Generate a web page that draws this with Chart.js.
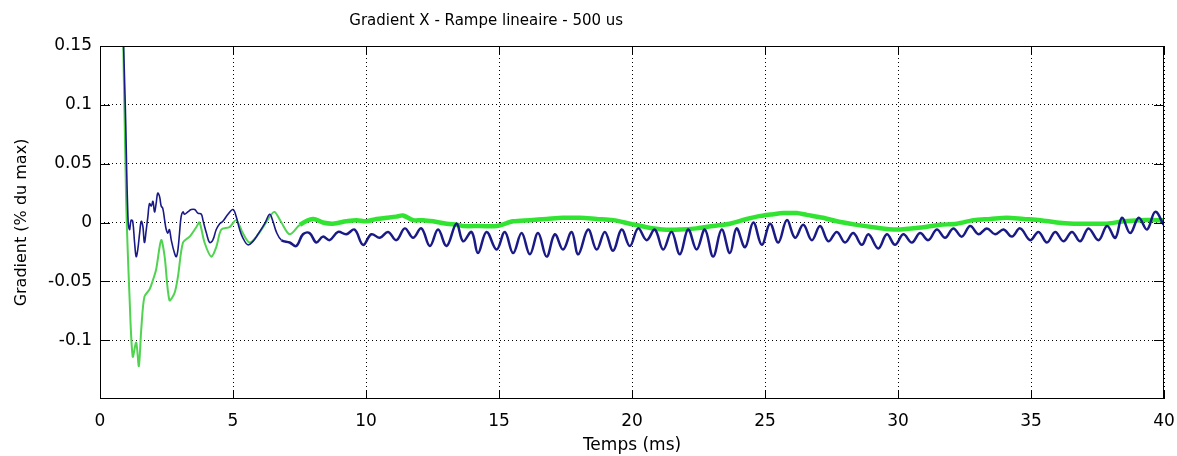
<!DOCTYPE html>
<html>
<head>
<meta charset="utf-8">
<script src="https://cdn.jsdelivr.net/npm/chart.js@4.4.0/dist/chart.umd.min.js"></script>
<style>
  html, body { margin: 0; padding: 0; background: #fff; }
  #wrap { width: 1177px; height: 456px; }
</style>
</head>
<body>
<div id="wrap"><canvas id="chart-gradient"></canvas></div>
<script>
const titre = 'Gradient X - Rampe lineaire - 500 us';
const xTicks = [0, 5, 10, 15, 20, 25, 30, 35, 40];
const yTicks = [-0.1, -0.05, 0, 0.05, 0.1, 0.15];
const yLabels = ['-0.1', '-0.05', '0', '0.05', '0.1', '0.15'];

// courbe bleue (temps en ms, gradient)
const bleuT = [0.86, 0.95, 1.05, 1.11, 1.17, 1.23, 1.30, 1.36, 1.42, 1.49, 1.55, 1.61, 1.67, 1.74, 1.80, 1.86, 1.93, 1.99,
  2.05, 2.11, 2.17, 2.24, 2.30, 2.36, 2.43, 2.49, 2.55, 2.61, 2.68, 2.80, 2.87, 2.93, 2.99, 3.05, 3.12, 3.18, 3.30, 3.43,
  3.56, 3.68, 3.81, 3.87, 4.00, 4.12, 4.24, 4.37, 4.50, 4.62, 4.81, 5.00, 5.12, 5.25, 5.37, 5.56, 5.75, 5.94, 6.19, 6.38,
  6.50, 6.63, 6.82, 7.13, 7.38, 7.63, 7.88, 8.13, 8.38, 8.63, 8.95, 9.26, 9.57, 9.89, 10.20, 10.52, 10.83, 11.14, 11.46,
  11.77, 12.08, 12.40, 12.71, 13.03, 13.40, 13.65, 13.97, 14.21, 14.53, 14.91, 15.22, 15.53, 15.85, 16.16, 16.47, 16.79,
  17.10, 17.41, 17.73, 17.98, 18.35, 18.67, 18.98, 19.29, 19.61, 19.92, 20.23, 20.55, 20.86, 21.17, 21.49, 21.80, 22.11,
  22.43, 22.74, 23.05, 23.37, 23.68, 23.93, 24.25, 24.56, 24.88, 25.19, 25.50, 25.82, 26.13, 26.44, 26.76, 27.07, 27.38,
  27.70, 28.01, 28.32, 28.64, 28.89, 29.26, 29.58, 29.89, 30.20, 30.52, 30.83, 31.14, 31.46, 31.77, 32.08, 32.40, 32.71,
  33.03, 33.34, 33.65, 33.97, 34.28, 34.59, 34.97, 35.28, 35.60, 35.91, 36.22, 36.54, 36.85, 37.16, 37.54, 37.86, 38.17,
  38.42, 38.73, 39.05, 39.36, 39.67, 39.99];
const bleuV = [0.17, 0.10, 0.005, -0.006, 0.002, 0.001, -0.017, -0.029, -0.023, -0.009, 0.001, -0.003, -0.017, -0.006, 0.005, 0.016, 0.014, 0.018,
  0.009, 0.016, 0.025, 0.022, 0.014, 0.012, 0.002, -0.006, -0.009, -0.006, -0.015, -0.026, -0.029, -0.023, -0.009, 0.005, 0.009, 0.007, 0.009, 0.011,
  0.011, 0.008, 0.007, 0.002, -0.009, -0.017, -0.015, -0.006, -0.001, 0.001, 0.007, 0.011, 0.005, -0.006, -0.013, -0.019, -0.016, -0.010, -0.001, 0.007,
  0.001, -0.008, -0.015, -0.017, -0.020, -0.010, -0.009, -0.017, -0.012, -0.015, -0.008, -0.010, -0.006, -0.019, -0.010, -0.013, -0.008, -0.015, -0.005,
  -0.013, -0.005, -0.020, -0.006, -0.020, -0.001, -0.016, -0.008, -0.026, -0.008, -0.023, -0.008, -0.026, -0.009, -0.027, -0.009, -0.029,
  -0.010, -0.023, -0.008, -0.027, -0.006, -0.023, -0.008, -0.024, -0.006, -0.020, -0.005, -0.015, -0.006, -0.023, -0.008, -0.027, -0.006,
  -0.023, -0.006, -0.029, -0.006, -0.026, -0.005, -0.021, 0.000, -0.019, -0.001, -0.017, 0.002, -0.013, -0.002, -0.015, -0.003, -0.016,
  -0.008, -0.017, -0.009, -0.019, -0.010, -0.022, -0.010, -0.019, -0.010, -0.017, -0.009, -0.015, -0.006, -0.013, -0.005, -0.012, -0.003,
  -0.010, -0.005, -0.010, -0.006, -0.012, -0.005, -0.015, -0.008, -0.017, -0.008, -0.016, -0.008, -0.016, -0.005, -0.015, -0.003, -0.013,
  0.004, -0.009, 0.004, -0.006, 0.009, -0.002];

// courbe verte
const vertT = [0.84, 0.98, 1.11, 1.23, 1.36, 1.46, 1.55, 1.67, 1.86, 1.99, 2.11, 2.30, 2.43, 2.61, 2.80, 2.93, 3.12, 3.37,
  3.62, 3.74, 3.93, 4.18, 4.37, 4.56, 4.87, 5.12, 5.37, 5.62, 5.88, 6.13, 6.38, 6.56, 6.82, 7.13, 7.51, 8.01, 8.38, 8.76,
  9.26, 9.64, 10.02, 10.39, 10.77, 11.14, 11.39, 11.77, 12.14, 12.52, 13.03, 13.46, 13.65, 14.28, 14.91, 15.53, 16.16,
  16.79, 17.41, 18.04, 18.67, 19.29, 19.92, 20.55, 21.17, 21.80, 22.43, 23.05, 23.68, 24.31, 24.69, 25.31, 25.69, 26.19,
  26.57, 27.19, 27.70, 28.45, 29.07, 29.95, 30.96, 31.58, 32.21, 32.84, 33.47, 34.09, 34.72, 35.35, 35.97, 36.60, 37.23,
  37.86, 38.48, 39.11, 39.74, 40.0];
const vertV = [0.20, 0.022, -0.063, -0.114, -0.102, -0.122, -0.091, -0.063, -0.057, -0.049, -0.040, -0.015, -0.029, -0.066, -0.060, -0.046, -0.017, -0.012,
  -0.004, 0.000, -0.017, -0.029, -0.021, -0.006, -0.004, 0.002, -0.009, -0.017, -0.012, -0.004, 0.005, 0.009, 0.000, -0.010, -0.002, 0.003, 0.000, -0.001,
  0.001, 0.002, 0.001, 0.003, 0.004, 0.005, 0.006, 0.002, 0.002, 0.001, -0.001, -0.002, -0.003, -0.003, -0.003, 0.001, 0.002,
  0.003, 0.004, 0.004, 0.003, 0.002, -0.001, -0.004, -0.006, -0.006, -0.005, -0.003, -0.001, 0.003, 0.005, 0.007, 0.008, 0.008,
  0.0065, 0.004, 0.001, -0.002, -0.004, -0.006, -0.004, -0.002, -0.001, 0.002, 0.003, 0.004, 0.003, 0.002, 0.000, -0.001, -0.001,
  -0.001, 0.001, 0.002, 0.002, 0.002];

const toPoints = (t, v) => t.map((x, i) => ({ x, y: v[i] }));

// cadre noir + petites graduations vers l'interieur + titre
const cadre = {
  id: 'cadre',
  afterDatasetsDraw(chart) {
    const { ctx, chartArea: a, scales: { x, y } } = chart;
    ctx.save();
    ctx.strokeStyle = '#000';
    ctx.lineWidth = 1;
    ctx.strokeRect(a.left + 0.5, a.top + 0.5, a.right - a.left - 1, a.bottom - a.top - 1);
    ctx.beginPath();
    xTicks.forEach((v) => {
      const px = Math.round(x.getPixelForValue(v)) + 0.5;
      ctx.moveTo(px, a.bottom); ctx.lineTo(px, a.bottom - 8);
      ctx.moveTo(px, a.top); ctx.lineTo(px, a.top + 8);
    });
    yTicks.forEach((v) => {
      const py = Math.round(y.getPixelForValue(v)) + 0.5;
      ctx.moveTo(a.left, py); ctx.lineTo(a.left + 10, py);
      ctx.moveTo(a.right, py); ctx.lineTo(a.right - 10, py);
    });
    ctx.stroke();
    ctx.fillStyle = '#000';
    ctx.font = '15px "DejaVu Sans"';
    ctx.textAlign = 'center';
    ctx.textBaseline = 'middle';
    ctx.fillText(titre, a.left + (a.right - a.left) * 0.363, 21);
    ctx.restore();
  }
};

new Chart(document.getElementById('chart-gradient'), {
  type: 'line',
  data: {
    datasets: [
      {
        label: 'bleu',
        data: toPoints(bleuT, bleuV),
        borderColor: 'rgb(26,26,135)',
        tension: 0.38,
        pointRadius: 0,
        segment: {
          borderWidth: (c) => (c.p0.parsed.x > 6.8 ? 2.5 : 1.6)
        }
      },
      {
        label: 'vert',
        data: toPoints(vertT, vertV),
        borderColor: 'rgb(50,228,50)',
        tension: 0.3,
        pointRadius: 0,
        segment: {
          borderWidth: (c) => (c.p0.parsed.x > 7.2 ? 4.5 : 2),
          borderColor: (c) => (c.p0.parsed.x > 7.2 ? 'rgb(50,228,50)' : 'rgb(80,212,80)')
        }
      }
    ]
  },
  options: {
    responsive: true,
    maintainAspectRatio: false,
    animation: false,
    layout: { padding: { top: 46, right: 13, left: 0, bottom: 0 } },
    plugins: { legend: { display: false }, tooltip: { enabled: false } },
    scales: {
      x: {
        type: 'linear',
        min: 0,
        max: 40,
        afterBuildTicks: (s) => { s.ticks = xTicks.map((v) => ({ value: v })); },
        afterFit: (s) => { s.height = 57; s.paddingLeft = 0; s.paddingRight = 0; },
        ticks: { color: '#000', font: { family: 'DejaVu Sans', size: 17 }, padding: 12, maxRotation: 0 },
        grid: { color: '#000', lineWidth: 1, drawTicks: false },
        border: { display: false, dash: [1, 3] },
        title: { display: true, text: 'Temps (ms)', color: '#000', font: { family: 'DejaVu Sans', size: 17 }, padding: { top: 0, bottom: 0 } }
      },
      y: {
        min: -0.15,
        max: 0.15,
        afterBuildTicks: (s) => { s.ticks = yTicks.map((v) => ({ value: v })); },
        afterFit: (s) => { s.width = 100; s.paddingTop = 0; s.paddingBottom = 0; },
        ticks: {
          color: '#000',
          font: { family: 'DejaVu Sans', size: 17 },
          padding: 8,
          callback: (v) => yLabels[yTicks.indexOf(v)]
        },
        grid: { color: '#000', lineWidth: 1, drawTicks: false },
        border: { display: false, dash: [1, 3] },
        title: { display: true, text: 'Gradient (% du max)', color: '#000', font: { family: 'DejaVu Sans', size: 16 }, padding: { top: 12, bottom: 0 } }
      }
    }
  },
  plugins: [cadre]
});
</script>
</body>
</html>
